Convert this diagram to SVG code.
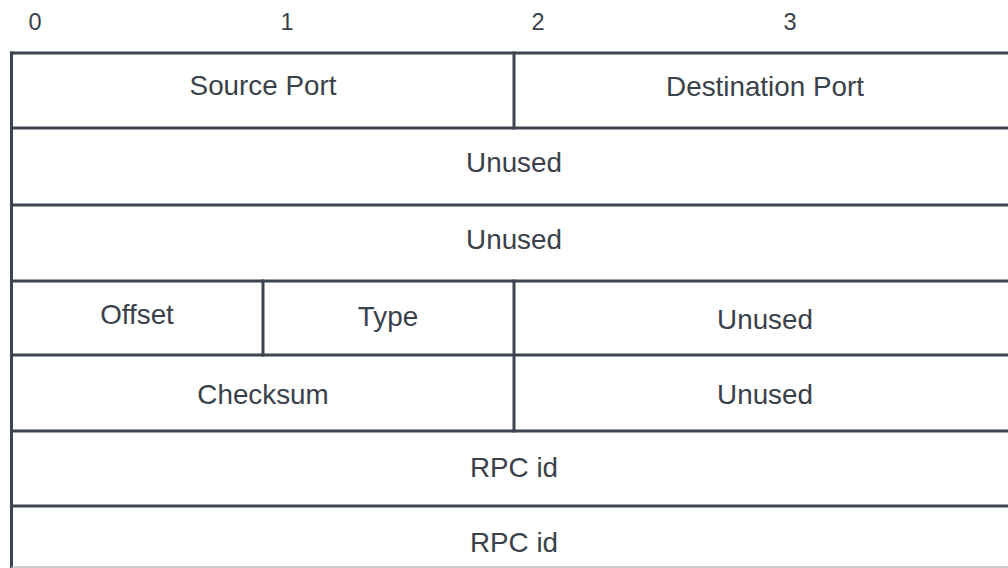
<svg xmlns="http://www.w3.org/2000/svg" width="1008" height="568" viewBox="0 0 1008 568">
<style>
.ln{stroke:#3d444f;stroke-width:3;fill:none;stroke-linecap:square}
.t{font-family:"Liberation Sans",Arial,sans-serif;font-size:27.8px;fill:#3a414a;text-anchor:middle}
.h{font-family:"Liberation Sans",Arial,sans-serif;font-size:23.5px;fill:#3a414a;text-anchor:middle}
</style>
<rect width="1008" height="568" fill="#ffffff"/>
<g id="header">
<text class="h" x="35" y="30">0</text>
<text class="h" x="287" y="30">1</text>
<text class="h" x="538" y="30">2</text>
<text class="h" x="790" y="30">3</text>
</g>
<g id="connectors">
<line class="ln" x1="11.5" y1="53" x2="11.5" y2="568"/>
<line class="ln" x1="11.5" y1="53" x2="1010" y2="53"/>
<line class="ln" x1="11.5" y1="128" x2="1010" y2="128"/>
<line class="ln" x1="11.5" y1="205" x2="1010" y2="205"/>
<line class="ln" x1="11.5" y1="281" x2="1010" y2="281"/>
<line class="ln" x1="11.5" y1="355" x2="1010" y2="355"/>
<line class="ln" x1="11.5" y1="431" x2="1010" y2="431"/>
<line class="ln" x1="11.5" y1="506" x2="1010" y2="506"/>
<line x1="11.5" y1="567" x2="1010" y2="567" stroke="#bdbdbd" stroke-width="1.5"/>
<line class="ln" x1="514" y1="53" x2="514" y2="128"/>
<line class="ln" x1="263" y1="281" x2="263" y2="355"/>
<line class="ln" x1="514" y1="281" x2="514" y2="431"/>
</g>
<g id="source-port"><text class="t" x="263" y="95">Source Port</text></g>
<g id="destination-port"><text class="t" x="765" y="96">Destination Port</text></g>
<g id="unused-1"><text class="t" x="514" y="172">Unused</text></g>
<g id="unused-2"><text class="t" x="514" y="249">Unused</text></g>
<g id="offset"><text class="t" x="137" y="324">Offset</text></g>
<g id="type"><text class="t" x="388" y="326">Type</text></g>
<g id="unused-3"><text class="t" x="765" y="329">Unused</text></g>
<g id="checksum"><text class="t" x="263" y="404">Checksum</text></g>
<g id="unused-4"><text class="t" x="765" y="404">Unused</text></g>
<g id="rpc-id-1"><text class="t" x="514" y="477">RPC id</text></g>
<g id="rpc-id-2"><text class="t" x="514" y="552">RPC id</text></g>
</svg>
